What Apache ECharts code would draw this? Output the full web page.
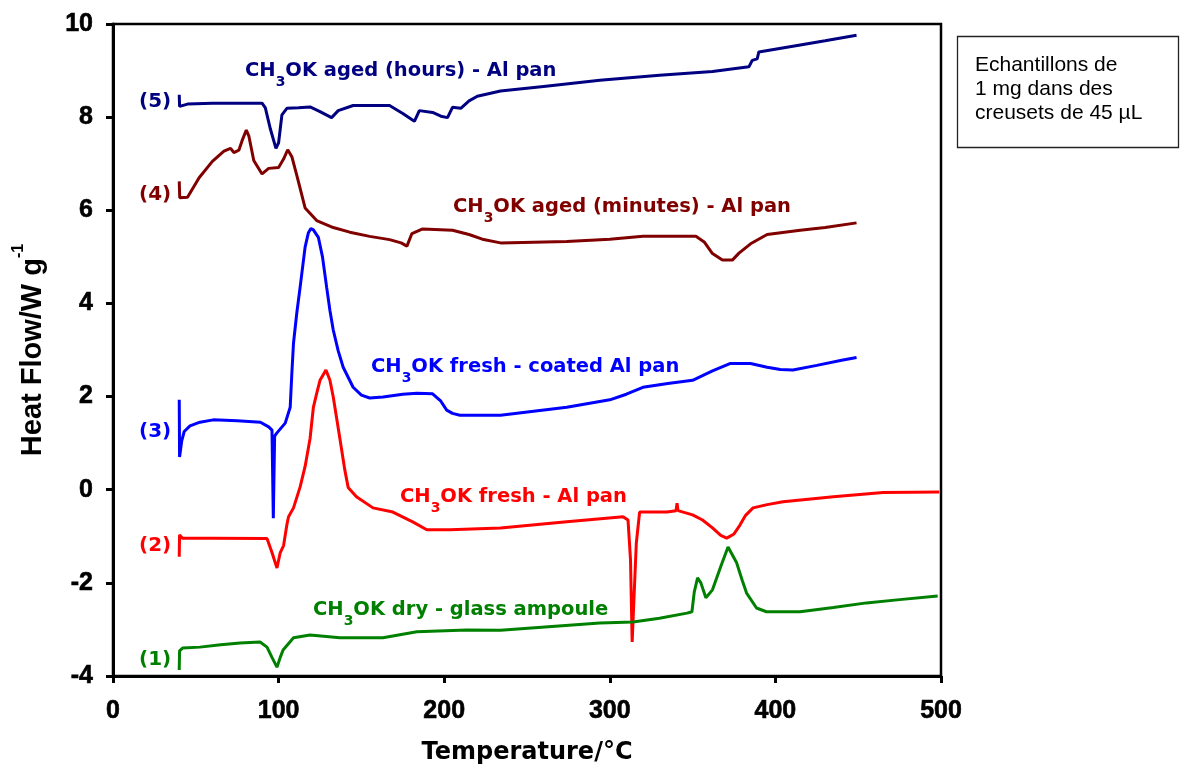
<!DOCTYPE html>
<html>
<head>
<meta charset="utf-8">
<script src="https://cdn.jsdelivr.net/npm/echarts@6/dist/echarts.min.js"></script>
<style>html,body{margin:0;padding:0;background:#fff}#c{width:1181px;height:773px}</style>
</head>
<body>
<div id="c"></div>
<script>
// ---- data: [temperature °C, heat flow W/g] ----
var s5_agedHours = [[40,8.48],[40.2,8.23],[45,8.28],[60,8.30],[90,8.30],[92,8.20],[95,7.75],[98.4,7.33],[100,7.45],[102,8.05],[105,8.19],[112,8.20],[119,8.22],[125,8.12],[132,7.99],[136,8.14],[145,8.25],[167,8.25],[175,8.08],[182,7.91],[185,8.14],[193,8.10],[198,8.02],[202,7.99],[205,8.21],[210,8.19],[215,8.35],[220,8.45],[234,8.56],[260,8.66],[294,8.79],[330,8.90],[362,8.98],[384,9.08],[386,9.22],[389,9.25],[390,9.40],[415,9.55],[430,9.64],[449,9.76]];
var s4_agedMinutes = [[40,6.62],[40.3,6.27],[45,6.28],[52,6.70],[60,7.05],[67,7.27],[71,7.33],[73,7.24],[76,7.29],[78,7.50],[80.5,7.72],[82,7.60],[85,7.07],[90,6.78],[94,6.90],[100,6.92],[103,7.10],[105.5,7.30],[108,7.15],[111,6.75],[116,6.05],[123,5.78],[133,5.63],[143,5.53],[155,5.44],[167,5.37],[174,5.30],[177.5,5.23],[180.5,5.50],[187,5.60],[205,5.57],[215,5.48],[223,5.38],[234,5.30],[274,5.33],[300,5.38],[320,5.44],[352,5.44],[357,5.32],[362,5.07],[368,4.93],[374,4.93],[378,5.08],[385,5.28],[395,5.48],[415,5.57],[430,5.63],[449,5.73]];
var s3_freshCoated = [[40,1.93],[40.2,0.70],[41.5,1.05],[43,1.25],[46.5,1.37],[52.5,1.45],[60.5,1.50],[75,1.48],[89,1.45],[94,1.35],[96,1.28],[96.8,-0.61],[97.6,1.15],[99,1.22],[104,1.43],[107,1.77],[108,2.5],[109,3.15],[111,3.8],[113,4.35],[116,5.21],[118,5.52],[119.5,5.61],[121,5.58],[124,5.42],[126.5,5.0],[129,4.35],[131,3.85],[133,3.43],[136,2.98],[139,2.63],[145,2.20],[150,2.03],[155,1.97],[163,1.99],[175,2.05],[183.5,2.07],[193,2.06],[198,1.90],[201.5,1.71],[205,1.64],[209.5,1.60],[234,1.60],[274,1.77],[300,1.93],[310,2.05],[320,2.20],[335,2.28],[350,2.35],[362,2.55],[372.5,2.71],[385,2.71],[395,2.63],[403,2.58],[410.6,2.57],[425,2.67],[440,2.78],[449,2.84]];
var s2_freshAl = [[40,-1.44],[40.2,-0.97],[42,-1.04],[60,-1.04],[93,-1.05],[96,-1.35],[99,-1.68],[101,-1.35],[103,-1.2],[105,-0.75],[106,-0.58],[109,-0.39],[113,0.06],[116,0.5],[119,1.1],[121,1.77],[123,2.07],[125,2.35],[128.6,2.57],[131,2.35],[133,1.99],[137,1.1],[140,0.42],[142,0.05],[147,-0.15],[157,-0.39],[169,-0.48],[181,-0.69],[189.5,-0.86],[203.5,-0.86],[234,-0.82],[274,-0.69],[308,-0.58],[311,-0.65],[312.5,-1.5],[313.5,-3.27],[314.5,-3.27],[316,-1.15],[318,-0.48],[334.5,-0.48],[340,-0.45],[340.6,-0.29],[341.2,-0.45],[350,-0.54],[356,-0.65],[362,-0.82],[367,-0.98],[370.6,-1.04],[375,-0.95],[378.6,-0.76],[382,-0.55],[386.5,-0.39],[395,-0.32],[404.6,-0.26],[435,-0.15],[465,-0.06],[499,-0.05]];
var s1_dryGlass = [[40,-3.87],[40.2,-3.46],[42,-3.40],[52.5,-3.38],[65,-3.33],[76.7,-3.29],[88.8,-3.27],[93,-3.38],[96,-3.6],[99,-3.81],[101,-3.6],[102.7,-3.44],[109,-3.18],[119,-3.12],[137,-3.18],[163,-3.18],[183.5,-3.05],[213.6,-3.01],[234,-3.02],[294,-2.86],[314,-2.84],[330,-2.76],[346.6,-2.65],[349.6,-2.62],[351,-2.2],[353,-1.89],[355,-2.0],[358,-2.32],[362,-2.15],[367,-1.65],[371.4,-1.23],[376.6,-1.57],[380,-1.95],[382.6,-2.22],[388.6,-2.54],[394.6,-2.62],[414.9,-2.62],[435,-2.53],[455,-2.43],[475,-2.36],[498,-2.28]];

var curveLabels = [
  ['CH','3','OK aged (hours) - Al pan'],
  ['CH','3','OK aged (minutes) - Al pan'],
  ['CH','3','OK fresh - coated Al pan'],
  ['CH','3','OK fresh - Al pan'],
  ['CH','3','OK dry - glass ampoule']
];
var curveNumbers = ['(5)','(4)','(3)','(2)','(1)'];
var boxText = 'Echantillons de\n1 mg dans des\ncreusets de 45 µL';
var xTitle = 'Temperature/°C';
var yTitle = ['Heat Flow/W g', '-1'];

// ---- styles / layout ----
var colors = ['#000080','#800000','#0000ff','#ff0000','#008000'];
var labelPos = [[245,70],[453,206],[371,366],[400,496],[313,609]];
var numberPos = [[139,102],[139,195],[139,432],[139,546],[139,660]];
var LF = 'DejaVu Sans';

var chart = echarts.init(document.getElementById('c'));
function ser(data, color){
  return {type:'line', data:data, showSymbol:false, symbol:'none', silent:true,
    lineStyle:{color:color, width:3}, itemStyle:{color:color}, animation:false};
}
var graphics = [];
curveLabels.forEach(function(p,i){
  var c = colors[i];
  graphics.push({type:'text', x:labelPos[i][0], y:labelPos[i][1]-9, silent:true,
    style:{text:'{a|'+p[0]+'}{s|'+p[1]+'}{a|'+p[2]+'}', verticalAlign:'top', align:'left', fill:c,
      rich:{
        a:{fontFamily:LF, fontWeight:'bold', fontSize:19.5, lineHeight:22, verticalAlign:'top', fill:c, color:c},
        s:{fontFamily:LF, fontWeight:'bold', fontSize:14, lineHeight:28, verticalAlign:'bottom', fill:c, color:c}
      }}});
  graphics.push({type:'text', x:numberPos[i][0], y:numberPos[i][1], silent:true,
    style:{text:curveNumbers[i], fontFamily:LF, fontWeight:'bold', fontSize:20, fill:c, verticalAlign:'middle', align:'left'}});
});
graphics.push({type:'rect', shape:{x:957.5, y:36.5, width:221, height:111}, style:{fill:'#fff', stroke:'#222', lineWidth:1.3}, silent:true});
graphics.push({type:'text', x:975, y:53, silent:true,
  style:{text:boxText, fontFamily:'Liberation Sans', fontSize:21, lineHeight:24, fill:'#000', verticalAlign:'top', align:'left'}});

chart.setOption({
  backgroundColor:'#fff',
  animation:false,
  grid:{left:113, right:240, top:24, bottom:97, show:true, borderColor:'#000', borderWidth:2.5, backgroundColor:'transparent'},
  xAxis:{type:'value', min:0, max:500, interval:100,
    name:xTitle, nameLocation:'middle', nameGap:65,
    nameTextStyle:{fontFamily:LF, fontWeight:'bold', fontSize:24, color:'#000'},
    axisLine:{onZero:false, lineStyle:{color:'#000', width:3}},
    axisTick:{show:true, inside:false, length:7, lineStyle:{color:'#000', width:3}},
    axisLabel:{fontFamily:'Liberation Sans', fontWeight:'bold', fontSize:25, color:'#000', margin:23, textBorderColor:'#000', textBorderWidth:0.6},
    splitLine:{show:false}},
  yAxis:{type:'value', min:-4, max:10, interval:2,
    name:'{a|'+yTitle[0]+'}{b|'+yTitle[1]+'}', nameLocation:'middle', nameGap:66, nameRotate:90,
    nameTextStyle:{color:'#000', rich:{
      a:{fontFamily:'Liberation Sans', fontWeight:'bold', fontSize:29, lineHeight:36, verticalAlign:'bottom', color:'#000'},
      b:{fontFamily:'Liberation Sans', fontWeight:'bold', fontSize:16, lineHeight:18, verticalAlign:'top', color:'#000'}}},
    axisLine:{onZero:false, lineStyle:{color:'#000', width:3}},
    axisTick:{show:true, inside:false, length:7, lineStyle:{color:'#000', width:3}},
    axisLabel:{fontFamily:'Liberation Sans', fontWeight:'bold', fontSize:25, color:'#000', margin:20, textBorderColor:'#000', textBorderWidth:0.6},
    splitLine:{show:false}},
  series:[
    ser(s5_agedHours, colors[0]),
    ser(s4_agedMinutes, colors[1]),
    ser(s3_freshCoated, colors[2]),
    ser(s2_freshAl, colors[3]),
    ser(s1_dryGlass, colors[4])
  ],
  graphic:graphics
});
</script>
</body>
</html>
